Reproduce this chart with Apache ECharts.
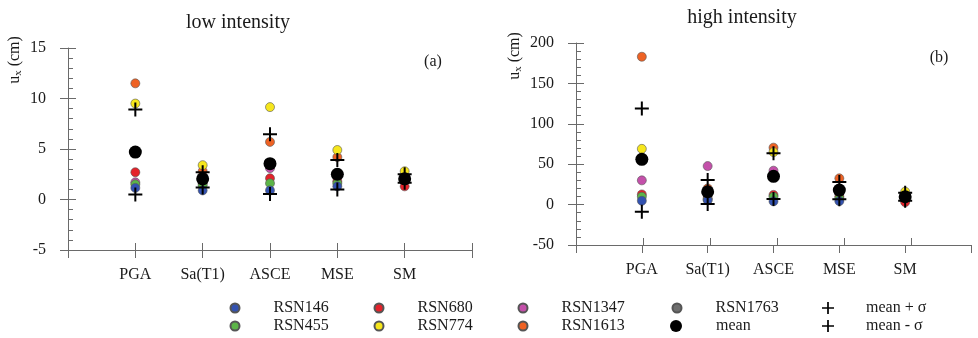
<!DOCTYPE html>
<html>
<head>
<meta charset="utf-8">
<script src="https://cdn.jsdelivr.net/npm/echarts@6/dist/echarts.min.js"></script>
<style>
html,body{margin:0;padding:0;background:#fff;}
#c{width:978px;height:338px;}
</style>
</head>
<body>
<div id="c"></div>
<script>
// ---------- data ----------
const categories = ['PGA', 'Sa(T1)', 'ASCE', 'MSE', 'SM'];
const recordNames = ['RSN146', 'RSN455', 'RSN680', 'RSN774', 'RSN1347', 'RSN1613', 'RSN1763'];

// low intensity (cm)
const lowRSN146  = [1.15, 0.9, 0.9, 1.3, 1.9];
const lowRSN455  = [1.5, 1.4, 1.6, 1.6, 2.0];
const lowRSN680  = [2.7, 1.6, 2.1, 1.8, 1.3];
const lowRSN774  = [9.5, 3.4, 9.15, 4.9, 2.8];
const lowRSN1347 = [1.7, 1.8, 3.1, 2.2, 2.0];
const lowRSN1613 = [11.5, 2.8, 5.7, 4.2, 2.3];
const lowRSN1763 = [4.8, 2.0, 3.5, 2.4, 2.1];
const lowMean      = [4.7, 2.05, 3.55, 2.5, 2.05];
const lowMeanPlus  = [8.9, 2.7, 6.45, 3.9, 2.5];
const lowMeanMinus = [0.5, 1.2, 0.55, 1.0, 1.65];

// high intensity (cm)
const highRSN146  = [4.7, 5.6, 4, 4.3, 8];
const highRSN455  = [9.7, 6, 9.7, 7.7, 9];
const highRSN680  = [12.6, 8, 12, 10, 3];
const highRSN774  = [69, 12, 65, 14, 16];
const highRSN1347 = [30, 47.7, 42, 18, 10];
const highRSN1613 = [183, 20, 70.5, 32.5, 12];
const highRSN1763 = [56, 15, 34, 18, 10];
const highMean      = [56, 15.9, 35, 18, 9.7];
const highMeanPlus  = [119, 30.4, 63.5, 28, 14.6];
const highMeanMinus = [-9, 0.6, 7, 6.5, 4.7];

const yTicksLow = [-5, 0, 5, 10, 15];
const yTicksHigh = [-50, 0, 50, 100, 150, 200];

// ---------- styling ----------
const FONT = 'Liberation Serif';
const recordColors = {
  RSN146: '#3352b0', RSN455: '#5cb548', RSN680: '#e4222a', RSN774: '#f6e61c',
  RSN1347: '#c450aa', RSN1613: '#ee6224', RSN1763: '#6e6e6e'
};
const PLUS = 'path://M6,0H8V6H14V8H8V14H6V8H0V6H6Z';
const axisColor = '#6a6a6a';
const textColor = '#1a1a1a';

const lowData = {RSN146: lowRSN146, RSN455: lowRSN455, RSN680: lowRSN680, RSN774: lowRSN774,
  RSN1347: lowRSN1347, RSN1613: lowRSN1613, RSN1763: lowRSN1763};
const highData = {RSN146: highRSN146, RSN455: highRSN455, RSN680: highRSN680, RSN774: highRSN774,
  RSN1347: highRSN1347, RSN1613: highRSN1613, RSN1763: highRSN1763};

const xCats = [' '].concat(categories, ['  ']);
const pairs = arr => arr.map((v, i) => [categories[i], v]);

const gridA = {left: 68, top: 48, width: 404, height: 202};
const gridB = {left: 576, top: 43, width: 405, height: 202};
// each plot gets a duplicate grid that only carries the inward half of the crossing ticks
const grids = [gridA, Object.assign({}, gridA), gridB, Object.assign({}, gridB)];

function xAxisMain(gi) {
  return {gridIndex: gi, type: 'category', data: xCats, boundaryGap: false, position: 'bottom',
    axisLine: {onZero: false, lineStyle: {color: axisColor, width: 1}},
    axisTick: {show: true, interval: 0, length: 8, lineStyle: {color: axisColor}},
    axisLabel: {interval: 0, margin: 17, color: textColor, fontFamily: FONT, fontSize: 16},
    splitLine: {show: false}};
}
function xAxisDup(gi) {
  return {gridIndex: gi, type: 'category', data: xCats, boundaryGap: false, position: 'bottom',
    axisLine: {show: false, onZero: false},
    axisTick: {show: true, inside: true, interval: 0, length: 7, lineStyle: {color: axisColor}},
    axisLabel: {show: false}, splitLine: {show: false}};
}
function yAxisMain(gi, ticks) {
  const min = ticks[0], max = ticks[ticks.length - 1], interval = ticks[1] - ticks[0];
  return {gridIndex: gi, type: 'value', min, max, interval, position: 'left',
    axisLine: {show: true, onZero: false, lineStyle: {color: axisColor, width: 1}},
    axisTick: {show: true, length: 8, lineStyle: {color: axisColor}},
    axisLabel: {margin: 22, color: textColor, fontFamily: FONT, fontSize: 16},
    splitLine: {show: false}};
}
function yAxisDup(gi, ticks) {
  const min = ticks[0], max = ticks[ticks.length - 1], interval = ticks[1] - ticks[0];
  return {gridIndex: gi, type: 'value', min, max, interval, position: 'left',
    axisLine: {show: false, onZero: false},
    axisTick: {show: true, inside: true, length: 8, lineStyle: {color: axisColor}},
    minorTick: {show: true, splitNumber: 5, length: 5, lineStyle: {color: axisColor}},
    axisLabel: {show: false}, splitLine: {show: false}};
}

function seriesFor(ai, data, mean, mplus, mminus) {
  const out = [];
  const drawOrder = ['RSN1763', 'RSN1613', 'RSN1347', 'RSN774', 'RSN680', 'RSN455', 'RSN146'];
  drawOrder.forEach(name => {
    out.push({type: 'scatter', name, xAxisIndex: ai, yAxisIndex: ai,
      data: pairs(data[name]), symbol: 'circle', symbolSize: 9,
      itemStyle: {color: recordColors[name], borderColor: '#555', borderWidth: 0.6, opacity: 1},
      emphasis: {disabled: true}});
  });
  out.push({type: 'scatter', name: 'mean', xAxisIndex: ai, yAxisIndex: ai,
    data: pairs(mean), symbol: 'circle', symbolSize: 13,
    itemStyle: {color: '#000', opacity: 1}, emphasis: {disabled: true}});
  out.push({type: 'scatter', name: 'mean + σ', xAxisIndex: ai, yAxisIndex: ai,
    data: pairs(mplus), symbol: PLUS, symbolSize: 14,
    itemStyle: {color: '#000', opacity: 1}, emphasis: {disabled: true}});
  out.push({type: 'scatter', name: 'mean - σ', xAxisIndex: ai, yAxisIndex: ai,
    data: pairs(mminus), symbol: PLUS, symbolSize: 14,
    itemStyle: {color: '#000', opacity: 1}, emphasis: {disabled: true}});
  return out;
}

const legendText = pad => ({color: textColor, fontFamily: FONT, fontSize: 16, lineHeight: 16, padding: [0, 0, 0, pad]});
function legendCol(names, left, top, size, pad) {
  return {orient: 'vertical', left, top, itemWidth: size, itemHeight: size, itemGap: 2,
    padding: 0, selectedMode: false, data: names, textStyle: legendText(pad)};
}

const option = {
  animation: false,
  backgroundColor: '#fff',
  textStyle: {fontFamily: FONT},
  title: [
    {text: 'low intensity', left: 238, top: 13, textAlign: 'center', padding: 0,
     textStyle: {fontFamily: FONT, fontSize: 20, fontWeight: 'normal', color: textColor}},
    {text: 'high intensity', left: 742, top: 8, textAlign: 'center', padding: 0,
     textStyle: {fontFamily: FONT, fontSize: 20, fontWeight: 'normal', color: textColor}}
  ],
  grid: grids,
  xAxis: [xAxisMain(0), xAxisDup(1), xAxisMain(2), xAxisDup(3)],
  yAxis: [yAxisMain(0, yTicksLow), yAxisDup(1, yTicksLow), yAxisMain(2, yTicksHigh), yAxisDup(3, yTicksHigh)],
  legend: [
    legendCol(['RSN146', 'RSN455'], 229.5, 300, 9, 29),
    legendCol(['RSN680', 'RSN774'], 373.5, 300, 9, 29),
    legendCol(['RSN1347', 'RSN1613'], 517.5, 300, 9, 29),
    legendCol(['RSN1763'], 671.5, 300, 9, 29),
    legendCol(['mean'], 670, 318, 12, 29),
    legendCol(['mean + σ', 'mean - σ'], 822, 300, 12, 27)
  ],
  graphic: [
    {type: 'text', x: 15, y: 60, rotation: Math.PI / 2,
     style: {text: 'u{sub|x} (cm)', fill: textColor, fontFamily: FONT, fontSize: 16, align: 'center', verticalAlign: 'middle',
       rich: {sub: {fontSize: 11, fontFamily: FONT, fill: textColor, padding: [7, 0, 0, 0]}}}},
    {type: 'text', x: 515, y: 56, rotation: Math.PI / 2,
     style: {text: 'u{sub|x} (cm)', fill: textColor, fontFamily: FONT, fontSize: 16, align: 'center', verticalAlign: 'middle',
       rich: {sub: {fontSize: 11, fontFamily: FONT, fill: textColor, padding: [7, 0, 0, 0]}}}},
    {type: 'text', x: 433, y: 62,
     style: {text: '(a)', fill: textColor, fontFamily: FONT, fontSize: 16, align: 'center', verticalAlign: 'middle'}},
    {type: 'text', x: 939, y: 58,
     style: {text: '(b)', fill: textColor, fontFamily: FONT, fontSize: 16, align: 'center', verticalAlign: 'middle'}}
  ],
  series: seriesFor(0, lowData, lowMean, lowMeanPlus, lowMeanMinus)
    .concat(seriesFor(2, highData, highMean, highMeanPlus, highMeanMinus))
};

const chart = echarts.init(document.getElementById('c'), null, {renderer: 'canvas'});
chart.setOption(option);
</script>
</body>
</html>
